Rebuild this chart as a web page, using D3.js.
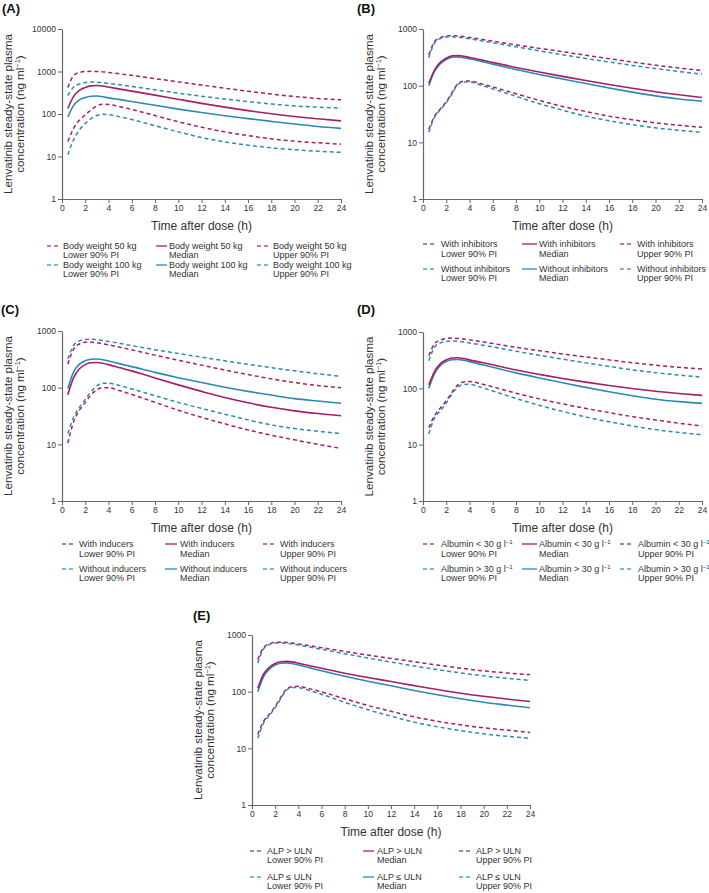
<!DOCTYPE html>
<html><head><meta charset="utf-8">
<script src="https://cdn.jsdelivr.net/npm/d3@7"></script>
<style>
body{margin:0;background:#fff;}
svg{display:block;font-family:"Liberation Sans",Arial,Helvetica,sans-serif;}
</style></head>
<body><svg id="c" width="709" height="893"></svg>
<script>
// ---------- DATA ----------
const times = [0.5,1,1.5,2,2.5,3,3.5,4,5,6,8,10,12,14,16,18,20,22,24];
const xTicks = [0,2,4,6,8,10,12,14,16,18,20,22,24];
const yTicksA = [1,10,100,1000,10000];
const yTicksBE = [1,10,100,1000];
const statLabels = ["Lower 90% PI","Median","Upper 90% PI"];

// Panel A: body weight 50 kg (magenta) vs 100 kg (blue)
const aMagLower  = [22.5,46,72,95,125,155,170,168,148,128,92,66,49,38,31,26,23,21,19.5];
const aMagMedian = [135,260,360,420,460,470,455,430,385,345,278,222,178,145,120,101,87,77,69];
const aMagUpper  = [420,800,950,1000,1010,1000,980,950,880,810,680,570,480,405,345,295,258,232,215];
const aBluLower  = [11,25,42,60,78,92,98,97,86,74,53,38,28,22,18.5,16,14.5,13.3,12.5];
const aBluMedian = [85,160,215,245,262,265,255,240,218,197,160,130,108,91,78,67,58,51,46];
const aBluUpper  = [270,430,510,550,565,560,545,525,485,445,370,310,262,225,195,172,155,145,137];
const aLegend = ["Body weight 50 kg","Body weight 100 kg"];

// Panel B: with (magenta) / without (blue) inhibitors
const bMagLower  = [17,29,39,52,75,108,120,121,108,95,72,55,43,35,29,25,22,20,18.5];
const bMagMedian = [110,190,260,305,335,340,330,315,285,257,210,174,146,123,105,90,78,69,62];
const bMagUpper  = [350,600,700,750,760,755,735,710,660,612,525,455,397,345,300,262,230,205,185];
const bBluLower  = [15,28,38,50,72,105,116,116,102,88,65,48,37,29,24,20.5,18,16.3,15];
const bBluMedian = [100,180,245,290,318,322,312,298,268,240,193,158,131,109,91,77,66,58,53];
const bBluUpper  = [310,570,680,720,730,715,695,670,620,572,485,412,352,302,262,228,200,178,160];
const bLegend = ["With inhibitors","Without inhibitors"];

// Panel C: with (magenta) / without (blue) inducers
const cMagLower  = [10.5,25,40,55,75,92,100,100,88,76,55,40,30,23,18,14.5,12,10,8.5];
const cMagMedian = [75,150,215,255,275,278,270,255,225,198,148,112,86,67,54,45,39,35,32];
const cMagUpper  = [260,480,590,630,635,620,595,570,515,465,375,305,250,205,170,143,123,109,100];
const cBluLower  = [15.5,30,45,62,85,108,120,120,108,95,72,55,43,34,27,22,19,17,15.5];
const cBluMedian = [97,190,260,300,318,320,312,295,263,235,186,150,123,102,86,74,64,58,53];
const cBluUpper  = [320,560,670,710,715,700,680,655,602,552,468,400,345,298,258,225,198,176,158];
const cLegend = ["With inducers","Without inducers"];

// Panel D: albumin < 30 (magenta) / > 30 (blue)
const dMagLower  = [20,33,45,60,85,115,130,132,120,106,82,65,53,44,37,31.5,27.5,24,21.5];
const dMagMedian = [115,200,275,320,345,348,338,320,290,262,212,177,150,129,112,99,89,81,75];
const dMagUpper  = [380,620,720,765,780,770,750,725,675,625,535,465,408,360,320,285,257,236,220];
const dBluLower  = [15.5,30,40,55,80,105,117,118,104,90,66,50,39,31,25.5,21.5,18.5,16.5,15];
const dBluMedian = [100,185,255,300,322,325,315,298,266,237,188,153,126,104,87,74,64,58,54];
const dBluUpper  = [310,540,640,680,695,685,665,640,590,542,455,385,330,283,245,213,190,172,158];
const dLegend = ["Albumin < 30 g l","Albumin > 30 g l"];

// Panel E: ALP > ULN (magenta) / ALP ≤ ULN (blue)
const eMagLower  = [17.5,30,40,55,80,112,123,124,112,99,75,57,45,36,30,26,23,21,19];
const eMagMedian = [115,205,270,315,338,342,335,318,286,258,212,178,151,128,109,94,83,74,67];
const eMagUpper  = [370,600,700,740,745,740,720,695,645,598,512,442,385,337,295,260,233,214,200];
const eBluLower  = [15,28,38,52,76,108,118,118,104,90,65,48,37,29,24,20.5,18,16.3,15];
const eBluMedian = [100,185,250,295,318,322,312,295,263,234,187,153,127,105,88,75,65,58,52];
const eBluUpper  = [320,570,680,720,725,710,690,665,612,560,468,392,333,285,245,214,190,172,158];
const eLegend = ["ALP > ULN","ALP \u2264 ULN"];

// ---------- STYLE / LAYOUT ----------
const MAG = "#a61e64", BLU = "#2a8ab4";
const AXC = "#666", TXC = "#333";

const panels = [
  {tag:"(A)", tagX:2, tagY:8, x0:62, x1:341, yTop:29, yBot:199, yMax:10000, yTicks:yTicksA,
   mag:[aMagLower,aMagMedian,aMagUpper], blu:[aBluLower,aBluMedian,aBluUpper], legend:aLegend, sup:false,
   leg:{lines:[[47,58],[156,167],[257,268]], tx:[63,169,273], rows:[246,255,265,274]}},
  {tag:"(B)", tagX:357, tagY:8, x0:423, x1:702, yTop:29, yBot:199, yMax:1000, yTicks:yTicksBE,
   mag:[bMagLower,bMagMedian,bMagUpper], blu:[bBluLower,bBluMedian,bBluUpper], legend:bLegend, sup:false,
   leg:{lines:[[423,435],[522,537],[620,632]], tx:[441,539,637], rows:[244,254,269,278]}},
  {tag:"(C)", tagX:1, tagY:309, x0:62, x1:341, yTop:331, yBot:501, yMax:1000, yTicks:yTicksBE,
   mag:[cMagLower,cMagMedian,cMagUpper], blu:[cBluLower,cBluMedian,cBluUpper], legend:cLegend, sup:false,
   leg:{lines:[[62,73],[165,177],[263,275]], tx:[79,180,280], rows:[544,554,569,578]}},
  {tag:"(D)", tagX:357, tagY:309, x0:423, x1:702, yTop:332, yBot:501, yMax:1000, yTicks:yTicksBE,
   mag:[dMagLower,dMagMedian,dMagUpper], blu:[dBluLower,dBluMedian,dBluUpper], legend:dLegend, sup:true,
   leg:{lines:[[423,435],[522,537],[620,632]], tx:[441,539,638], rows:[544,554,569,578]}},
  {tag:"(E)", tagX:193, tagY:615, x0:252, x1:530, yTop:635, yBot:805, yMax:1000, yTicks:yTicksBE,
   mag:[eMagLower,eMagMedian,eMagUpper], blu:[eBluLower,eBluMedian,eBluUpper], legend:eLegend, sup:false,
   leg:{lines:[[250,263],[363,374],[459,471]], tx:[267,377,476], rows:[851,860,877,886]}}
];

const svg = d3.select("#c");

function drawPanel(p){
  const g = svg.append("g");
  const x = d3.scaleLinear().domain([0,24]).range([p.x0,p.x1]);
  const y = d3.scaleLog().domain([1,p.yMax]).range([p.yBot,p.yTop]);

  g.append("text").attr("x",p.tagX).attr("y",p.tagY).attr("dy","0.35em")
    .attr("font-size",13).attr("font-weight","bold").attr("fill","#111").text(p.tag);

  const ya = g.append("g").attr("transform",`translate(${p.x0},0)`)
    .call(d3.axisLeft(y).tickValues(p.yTicks).tickFormat(d3.format("d")).tickSize(4).tickSizeOuter(0));
  const xa = g.append("g").attr("transform",`translate(0,${p.yBot})`)
    .call(d3.axisBottom(x).tickValues(xTicks).tickFormat(d3.format("d")).tickSize(4).tickSizeOuter(0));
  [ya,xa].forEach(a=>{
    a.select(".domain").attr("stroke",AXC).attr("stroke-width",1.2);
    a.selectAll(".tick line").attr("stroke",AXC).attr("stroke-width",1);
    a.selectAll(".tick text").attr("fill",TXC).attr("font-size",8.6)
      .attr("font-family","Liberation Sans,Arial,sans-serif");
  });
  ya.selectAll(".tick text").attr("x",-6);
  xa.selectAll(".tick text").attr("y",6);

  // axis titles
  g.append("text").attr("x",(p.x0+p.x1)/2).attr("y",p.yBot+27).attr("dy","0.35em")
    .attr("text-anchor","middle").attr("font-size",12).attr("fill",TXC).text("Time after dose (h)");
  const cy = (p.yTop+p.yBot)/2;
  g.append("text").attr("transform",`translate(${p.x0-54},${cy}) rotate(-90)`).attr("dy","0.35em")
    .attr("text-anchor","middle").attr("font-size",11.6).attr("fill",TXC).text("Lenvatinib steady-state plasma");
  const t2 = g.append("text").attr("transform",`translate(${p.x0-42},${cy}) rotate(-90)`).attr("dy","0.35em")
    .attr("text-anchor","middle").attr("font-size",11.6).attr("fill",TXC);
  t2.append("tspan").text("concentration (ng ml");
  t2.append("tspan").attr("dy",-4).attr("font-size",7.5).text("\u22121");
  t2.append("tspan").attr("dy",4).text(")");

  // lines
  const line = d3.line().x((d,i)=>x(times[i])).y(d=>y(d)).curve(d3.curveMonotoneX);
  const groups = [{c:MAG,s:p.mag},{c:BLU,s:p.blu}];
  groups.forEach(gr=>{
    [0,2].forEach(k=>{
      g.append("path").datum(gr.s[k]).attr("d",line).attr("fill","none")
        .attr("stroke",gr.c).attr("stroke-width",1.5).attr("stroke-dasharray","4,3");
    });
  });
  groups.slice().reverse().forEach(gr=>{
    g.append("path").datum(gr.s[1]).attr("d",line).attr("fill","none")
      .attr("stroke",gr.c).attr("stroke-width",1.6);
  });

  // legend
  const L = p.leg;
  groups.forEach((gr,gi)=>{
    const r1 = L.rows[gi*2], r2 = L.rows[gi*2+1];
    for(let k=0;k<3;k++){
      g.append("line").attr("x1",L.lines[k][0]).attr("x2",L.lines[k][1]).attr("y1",r1).attr("y2",r1)
        .attr("stroke",gr.c).attr("stroke-width",1.6).attr("opacity",0.8)
        .attr("stroke-dasharray",k===1?null:"4,3");
      const t = g.append("text").attr("x",L.tx[k]).attr("y",r1).attr("dy","0.35em")
        .attr("font-size",9).attr("fill",TXC);
      t.append("tspan").text(p.legend[gi]);
      if(p.sup){
        t.append("tspan").attr("dy",-3).attr("font-size",6).text("\u22121");
      }
      g.append("text").attr("x",L.tx[k]).attr("y",r2).attr("dy","0.35em")
        .attr("font-size",9).attr("fill",TXC).text(statLabels[k]);
    }
  });
}
panels.forEach(drawPanel);
</script></body></html>
